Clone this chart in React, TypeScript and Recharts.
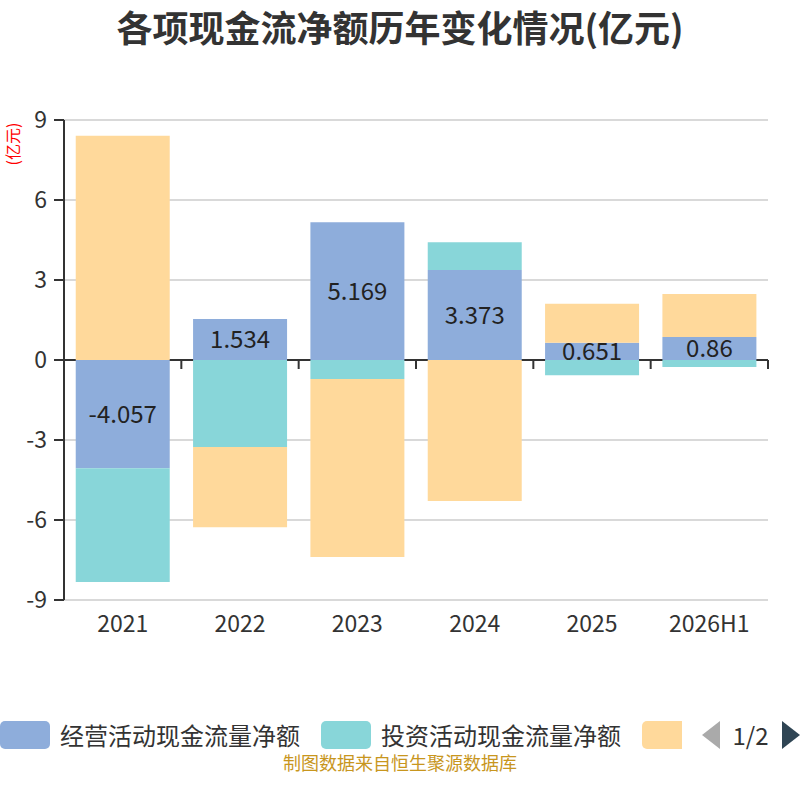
import React from 'react';
import { BarChart, Bar, XAxis, YAxis, CartesianGrid, ReferenceLine, LabelList } from 'recharts';

const categories = ['2021', '2022', '2023', '2024', '2025', '2026H1'];
const operating = [-4.057, 1.534, 5.169, 3.373, 0.651, 0.86];
const investing = [-4.27, -3.26, -0.71, 1.04, -0.575, -0.26];
const financing = [8.41, -3.01, -6.68, -5.29, 1.46, 1.615];
const yTicks = [-9, -6, -3, 0, 3, 6, 9];
const seriesNames = ['经营活动现金流量净额', '投资活动现金流量净额', '筹资活动现金流量净额'];
const seriesColors = ['#8EADDB', '#88D6D9', '#FFD99B'];
const title = '各项现金流净额历年变化情况(亿元)';
const unitLabel = '(亿元)';
const sourceText = '制图数据来自恒生聚源数据库';
const pageText = '1/2';
const visibleLegendNames = 2;

const data = categories.map((c, i) => ({
  year: c,
  op: operating[i],
  inv: investing[i],
  fin: financing[i],
}));

const FONT = '"Noto Sans CJK SC", "Noto Sans", sans-serif';

const ZeroAxis = (props: any) => {
  const { x1, y1, x2, y2 } = props;
  const n = categories.length;
  const step = (x2 - x1) / n;
  const ticks: React.ReactNode[] = [];
  for (let k = 0; k <= n; k++) {
    const x = x1 + k * step;
    ticks.push(<line key={k} x1={x} x2={x} y1={y1} y2={y1 + 9} stroke="#333" strokeWidth={2} />);
  }
  return (
    <g>
      <line x1={x1} y1={y1} x2={x2} y2={y2} stroke="#333" strokeWidth={2} />
      {ticks}
    </g>
  );
};

export default function App() {
  return (
    <div style={{ position: 'absolute', left: 0, top: 0, width: 800, height: 800, fontFamily: FONT, background: '#fff', overflow: 'hidden' }}>
      <div style={{ position: 'absolute', left: 0, top: 0, width: 800, lineHeight: '52px', textAlign: 'center', fontSize: 36, fontWeight: 'bold', color: '#333' }}>
        {title}
      </div>
      <div style={{ position: 'absolute', left: 12, top: 144, width: 0, height: 0 }}>
        <div style={{ position: 'absolute', transform: 'translate(-50%, -50%) rotate(-90deg)', color: '#ff0000', fontSize: 16, whiteSpace: 'nowrap', lineHeight: '16px' }}>
          {unitLabel}
        </div>
      </div>
      <BarChart
        width={800}
        height={800}
        data={data}
        stackOffset="sign"
        barCategoryGap="10%"
        margin={{ top: 120, right: 32, left: 0, bottom: 160 }}
        style={{ fontFamily: FONT }}
      >
        <CartesianGrid horizontal vertical={false} stroke="#cccccc" strokeWidth={1.5} />
        <XAxis
          dataKey="year"
          axisLine={false}
          tickLine={false}
          tickSize={6}
          tickMargin={10}
          height={40}
          interval={0}
          tick={{ fontSize: 23, fill: '#333' }}
        />
        <YAxis
          type="number"
          domain={[-9, 9]}
          ticks={yTicks}
          width={64}
          axisLine={{ stroke: '#333', strokeWidth: 2 }}
          tickLine={{ stroke: '#333', strokeWidth: 2 }}
          tickSize={10}
          tickMargin={7}
          tick={{ fontSize: 23, fill: '#333' }}
          allowDataOverflow
        />
        <ReferenceLine y={0} shape={ZeroAxis} zIndex={250} />
        <Bar dataKey="op" name={seriesNames[0]} stackId="a" fill={seriesColors[0]} isAnimationActive={false}>
          <LabelList dataKey="op" position="center" fill="#222" fontSize={24} />
        </Bar>
        <Bar dataKey="inv" name={seriesNames[1]} stackId="a" fill={seriesColors[1]} isAnimationActive={false} />
        <Bar dataKey="fin" name={seriesNames[2]} stackId="a" fill={seriesColors[2]} isAnimationActive={false} />
      </BarChart>
      <div style={{ position: 'absolute', left: 0, top: 716, width: 682, height: 38, overflow: 'hidden', whiteSpace: 'nowrap' }}>
        {seriesNames.map((name, i) => (
          <div key={name} style={{ display: 'inline-flex', alignItems: 'center', marginRight: 21, verticalAlign: 'top', height: 38 }}>
            <div style={{ width: 50, height: 28, borderRadius: 5, background: seriesColors[i], marginRight: 10, flex: 'none' }} />
            {i < visibleLegendNames ? (
              <span style={{ fontSize: 24, color: '#333', lineHeight: '38px' }}>{name}</span>
            ) : null}
          </div>
        ))}
      </div>
      <svg style={{ position: 'absolute', left: 700, top: 719 }} width={100} height={32}>
        <polygon points="20,2 20,30 2,16" fill="#aaaaaa" />
        <polygon points="82,2 82,30 100,16" fill="#2f4554" />
      </svg>
      <div style={{ position: 'absolute', left: 728, top: 719, width: 45, height: 32, lineHeight: '32px', textAlign: 'center', fontSize: 24, color: '#333' }}>
        {pageText}
      </div>
      <div style={{ position: 'absolute', left: 0, top: 750, width: 800, height: 24, lineHeight: '24px', textAlign: 'center', fontSize: 18, color: '#C8961E' }}>
        {sourceText}
      </div>
    </div>
  );
}
